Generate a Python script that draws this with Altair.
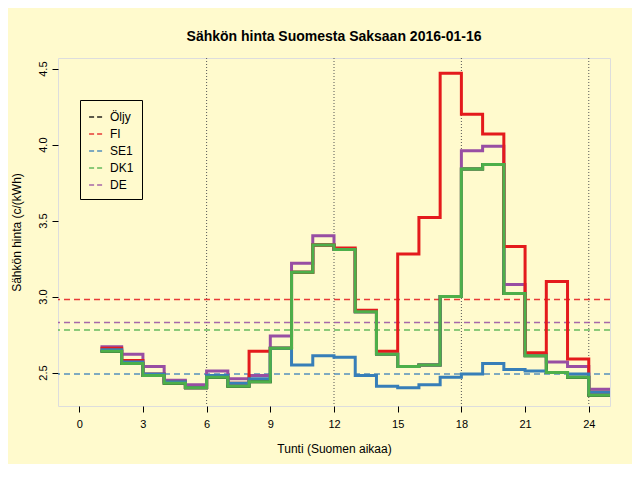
import altair as alt
import pandas as pd

tunnit = list(range(1, 25))
alueet = ["Öljy", "FI", "SE1", "DK1", "DE"]
varit = ["#000000", "#E41A1C", "#377EB8", "#4DAF4A", "#984EA3"]

fi = [2.66, 2.58, 2.49, 2.44, 2.40, 2.48, 2.43, 2.64, 2.66, 3.16, 3.34, 3.32,
      2.91, 2.64, 3.28, 3.52, 4.47, 4.20, 4.07, 3.33, 2.63, 3.10, 2.59, 2.37]
se1 = [2.65, 2.57, 2.49, 2.44, 2.40, 2.48, 2.43, 2.46, 2.66, 2.55, 2.61, 2.60,
       2.48, 2.41, 2.40, 2.42, 2.47, 2.49, 2.56, 2.52, 2.51, 2.50, 2.49, 2.37]
dk1 = [2.64, 2.56, 2.48, 2.43, 2.40, 2.47, 2.41, 2.44, 2.66, 3.16, 3.34, 3.31,
       2.90, 2.62, 2.54, 2.55, 3.00, 3.84, 3.87, 3.02, 2.61, 2.50, 2.47, 2.35]
de = [2.67, 2.62, 2.54, 2.45, 2.42, 2.51, 2.46, 2.48, 2.74, 3.22, 3.40, 3.31,
      2.90, 2.62, 2.54, 2.55, 3.00, 3.96, 3.99, 3.08, 2.62, 2.57, 2.54, 2.39]
oljy = dk1
keskiarvot = {"FI": 2.98, "SE1": 2.49, "DK1": 2.78, "DE": 2.83}
pystyviivat = [6, 12, 18, 24]

rivit = []
for nimi, arvot in [("Öljy", oljy), ("DE", de), ("FI", fi), ("SE1", se1), ("DK1", dk1)]:
    for t, v in zip(tunnit + [25], arvot + [arvot[-1]]):
        rivit.append({"tunti": t, "hinta": v, "alue": nimi})
df = pd.DataFrame(rivit)
df_ka = pd.DataFrame({"alue": list(keskiarvot), "hinta": list(keskiarvot.values())})
df_v = pd.DataFrame({"tunti": pystyviivat})

xs = alt.Scale(domain=[-1, 25], nice=False, zero=False)
ys = alt.Scale(domain=[2.28, 4.57], nice=False, zero=False)
legenda = alt.Legend(title=None, orient="none", legendX=22, legendY=42,
                     symbolType="stroke", symbolDash=[5, 3],
                     symbolStrokeWidth=1.5, symbolSize=250,
                     strokeColor="black", padding=8,
                     labelFont="Liberation Sans", labelFontSize=12,
                     rowPadding=2)
vari = alt.Color("alue:N", scale=alt.Scale(domain=alueet, range=varit),
                 sort=alueet, legend=legenda)

viivat = alt.Chart(df).mark_line(interpolate="step-after", strokeWidth=3, clip=True).encode(
    x=alt.X("tunti:Q", scale=xs,
            axis=alt.Axis(values=list(range(0, 25, 3)), title="Tunti (Suomen aikaa)",
                          grid=False, domain=False, tickColor="black", labelColor="black",
                          labelFontSize=11, titleFontSize=12, titleFontWeight="normal",
                          titlePadding=14, labelPadding=6, tickSize=6)),
    y=alt.Y("hinta:Q", scale=ys,
            axis=alt.Axis(values=[2.5, 3.0, 3.5, 4.0, 4.5], format=".1f",
                          title="Sähkön hinta (c/(kWh)", grid=False, domain=False,
                          labelAngle=-90, labelAlign="center", labelBaseline="bottom",
                          tickColor="black", labelFontSize=11, titleFontSize=12,
                          titleFontWeight="normal", titlePadding=14, labelPadding=4,
                          tickSize=6)),
    color=vari,
    detail="alue:N",
)

ka = alt.Chart(df_ka).mark_rule(strokeDash=[6, 4], strokeWidth=1.5, opacity=0.85).encode(
    y=alt.Y("hinta:Q", scale=ys),
    color=vari,
)

pysty = alt.Chart(df_v).mark_rule(strokeDash=[1, 2], color="#555555", strokeWidth=1).encode(
    x=alt.X("tunti:Q", scale=xs)
)

chart = alt.layer(pysty, ka, viivat).properties(
    width=552, height=348,
    background="#FFFACD",
    padding={"left": 50, "top": 50, "right": 22, "bottom": 58},
    autosize=alt.AutoSizeParams(type="none"),
    title=alt.TitleParams("Sähkön hinta Suomesta Saksaan 2016-01-16", fontSize=14,
                          fontWeight="bold", font="Liberation Sans", offset=14,
                          anchor="middle"),
).configure_view(stroke="black", strokeWidth=1).configure(font="Liberation Sans")

chart.save("out.html", embed_options={"renderer": "svg", "actions": False})
